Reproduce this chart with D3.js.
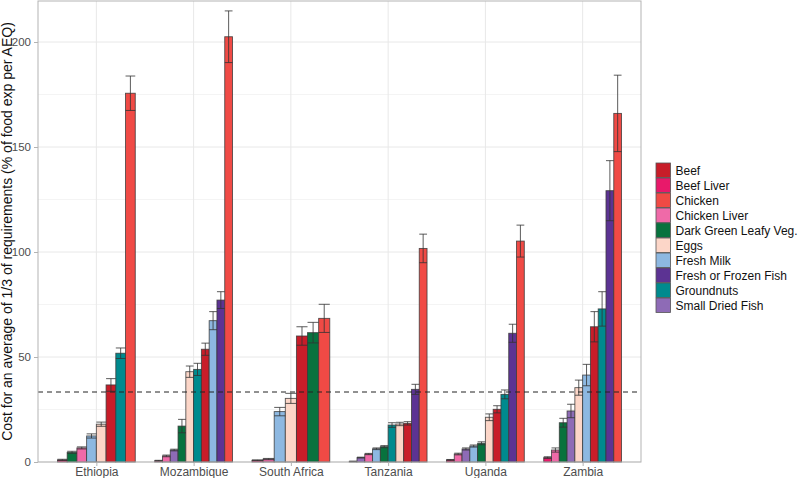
<!DOCTYPE html>
<html>
<head>
<meta charset="utf-8">
<script src="https://cdn.jsdelivr.net/npm/d3@7"></script>
<style>
  body { margin: 0; background: #fff; }
  text { font-family: "Liberation Sans", Arial, sans-serif; }
</style>
</head>
<body>
<div id="chart"></div>
<script>
var countries = ["Ethiopia", "Mozambique", "South Africa", "Tanzania", "Uganda", "Zambia"];

var foods = ["Beef", "Beef Liver", "Chicken", "Chicken Liver", "Dark Green Leafy Veg.",
             "Eggs", "Fresh Milk", "Fresh or Frozen Fish", "Groundnuts", "Small Dried Fish"];

var foodColors = ["#c81d29", "#e8196a", "#f04a45", "#ef6aa8", "#08723e",
                  "#fcd6c8", "#8db8e1", "#5c3393", "#008a8e", "#8e6bb6"];

// cost per food, one value per country (null = not available)
var beef         = [36.7, 53.7, 60.0, 18.4, 25.1, 64.4];
var beefLiver    = [1.0, 0.6, 0.8, 0.3, 1.0, 2.1];
var chicken      = [175.6, 202.5, 68.4, 101.7, 105.2, 166.0];
var chickenLiver = [6.7, 2.9, 1.4, 3.8, 3.8, 5.7];
var greenVeg     = [4.6, 17.1, 61.6, 7.3, 8.9, 18.7];
var eggs         = [18.0, 43.0, 30.3, 18.1, 21.3, 35.4];
var freshMilk    = [12.4, 67.3, 24.0, 6.3, 7.6, 41.4];
var freshFish    = [null, 77.1, null, 34.6, 61.3, 129.2];
var groundnuts   = [51.8, 44.1, null, 17.6, 32.2, 72.9];
var driedFish    = [null, 5.7, null, 2.1, 6.2, 24.3];

// half width of the error bars
var beefErr         = [3.0, 2.9, 4.4, 0.8, 1.7, 7.2];
var beefLiverErr    = [0.3, 0.2, 0.2, 0.1, 0.2, 0.4];
var chickenErr      = [8.2, 12.3, 6.7, 6.8, 7.6, 18.2];
var chickenLiverErr = [0.5, 0.4, 0.3, 0.3, 0.4, 1.0];
var greenVegErr     = [0.5, 3.2, 4.9, 0.5, 0.7, 2.1];
var eggsErr         = [1.0, 2.7, 2.4, 0.8, 1.6, 3.6];
var freshMilkErr    = [1.0, 4.3, 2.0, 0.4, 0.5, 5.1];
var freshFishErr    = [null, 4.0, null, 2.4, 4.3, 14.3];
var groundnutsErr   = [2.5, 2.9, null, 1.1, 2.1, 8.2];
var driedFishErr    = [null, 0.4, null, 0.2, 0.5, 3.2];

var yTicks = [0, 50, 100, 150, 200];
var threshold = 100 / 3;

var values = [beef, beefLiver, chicken, chickenLiver, greenVeg, eggs, freshMilk, freshFish, groundnuts, driedFish];
var errors = [beefErr, beefLiverErr, chickenErr, chickenLiverErr, greenVegErr, eggsErr, freshMilkErr, freshFishErr, groundnutsErr, driedFishErr];

var width = 799, height = 478;
var pLeft = 38, pRight = 641, pTop = 1, pBottom = 462;

var svg = d3.select("#chart").append("svg")
    .attr("width", width)
    .attr("height", height);

var x = d3.scalePoint()
    .domain(countries)
    .range([pLeft, pRight])
    .padding(0.6);

var y = d3.scaleLinear()
    .domain([0, (pBottom - pTop) / 2.1])
    .range([pBottom, pTop]);

var color = d3.scaleOrdinal().domain(foods).range(foodColors);

// gridlines
svg.append("g").selectAll("line")
    .data(d3.range(25, 225, 50))
    .join("line")
    .attr("x1", pLeft).attr("x2", pRight)
    .attr("y1", d => y(d)).attr("y2", d => y(d))
    .attr("stroke", "#f4f4f4");

svg.append("g").selectAll("line")
    .data(yTicks)
    .join("line")
    .attr("x1", pLeft).attr("x2", pRight)
    .attr("y1", d => y(d)).attr("y2", d => y(d))
    .attr("stroke", "#e8e8e8");

svg.append("g").selectAll("line")
    .data(countries)
    .join("line")
    .attr("x1", d => x(d)).attr("x2", d => x(d))
    .attr("y1", pTop).attr("y2", pBottom)
    .attr("stroke", "#e8e8e8");

// build rows per country, sorted by value
var groupW = x.step() * 0.8;
var rows = [];
countries.forEach(function(c, ci) {
    var items = [];
    foods.forEach(function(f, fi) {
        if (values[fi][ci] != null) {
            items.push({country: c, food: f, value: values[fi][ci], err: errors[fi][ci]});
        }
    });
    items.sort((a, b) => a.value - b.value);
    var bw = groupW / items.length;
    items.forEach(function(d, i) {
        d.x0 = x(c) - groupW / 2 + i * bw;
        d.w = bw;
        rows.push(d);
    });
});

svg.append("g").selectAll("rect")
    .data(rows)
    .join("rect")
    .attr("x", d => d.x0)
    .attr("y", d => y(d.value))
    .attr("width", d => d.w)
    .attr("height", d => y(0) - y(d.value))
    .attr("fill", d => color(d.food))
    .attr("stroke", "#3a3a3a")
    .attr("stroke-opacity", 0.85)
    .attr("stroke-width", 0.9);

// error bars
var eb = svg.append("g")
    .attr("stroke", "#333")
    .attr("stroke-opacity", 0.8)
    .attr("stroke-width", 1)
    .selectAll("g")
    .data(rows)
    .join("g");

eb.append("line")
    .attr("x1", d => d.x0 + d.w / 2).attr("x2", d => d.x0 + d.w / 2)
    .attr("y1", d => y(d.value - d.err)).attr("y2", d => y(d.value + d.err));
eb.append("line")
    .attr("x1", d => d.x0).attr("x2", d => d.x0 + d.w)
    .attr("y1", d => y(d.value + d.err)).attr("y2", d => y(d.value + d.err));
eb.append("line")
    .attr("x1", d => d.x0).attr("x2", d => d.x0 + d.w)
    .attr("y1", d => y(d.value - d.err)).attr("y2", d => y(d.value - d.err));

// reference line at 1/3
svg.append("line")
    .attr("x1", pLeft).attr("x2", pRight)
    .attr("y1", y(threshold)).attr("y2", y(threshold))
    .attr("stroke", "#222")
    .attr("stroke-dasharray", "5,4");

// panel border
svg.append("rect")
    .attr("x", pLeft).attr("y", pTop)
    .attr("width", pRight - pLeft).attr("height", pBottom - pTop)
    .attr("fill", "none")
    .attr("stroke", "#b3b3b3");

// axes
var yAxis = svg.append("g")
    .attr("transform", "translate(" + pLeft + ",0)")
    .call(d3.axisLeft(y).tickValues(yTicks).tickSize(4).tickPadding(3));
var xAxis = svg.append("g")
    .attr("transform", "translate(0," + pBottom + ")")
    .call(d3.axisBottom(x).tickSize(4).tickPadding(1));

[yAxis, xAxis].forEach(function(a) {
    a.select(".domain").remove();
    a.selectAll(".tick line").attr("stroke", "#b3b3b3");
    a.selectAll(".tick text")
        .attr("fill", "#4d4d4d")
        .style("font-size", "12px")
        .style("font-family", "'Liberation Sans', Arial, sans-serif");
});
yAxis.selectAll(".tick text").style("font-size", "11.5px");

svg.append("text")
    .attr("transform", "translate(11.5," + ((pTop + pBottom) / 2) + ") rotate(-90)")
    .attr("text-anchor", "middle")
    .attr("fill", "#111")
    .style("font-size", "14px")
    .text("Cost for an average of 1/3 of requirements (% of food exp per AEQ)");

// legend
var leg = svg.append("g")
    .attr("transform", "translate(656,163)");

var item = leg.selectAll("g")
    .data(foods)
    .join("g")
    .attr("transform", (d, i) => "translate(0," + (i * 15) + ")");

item.append("rect")
    .attr("width", 14.5)
    .attr("height", 14.5)
    .attr("fill", d => color(d))
    .attr("stroke", "#555")
    .attr("stroke-width", 0.8);

item.append("text")
    .attr("x", 19.5)
    .attr("y", 12)
    .attr("fill", "#111")
    .style("font-size", "12px")
    .text(d => d);
</script>
</body>
</html>
